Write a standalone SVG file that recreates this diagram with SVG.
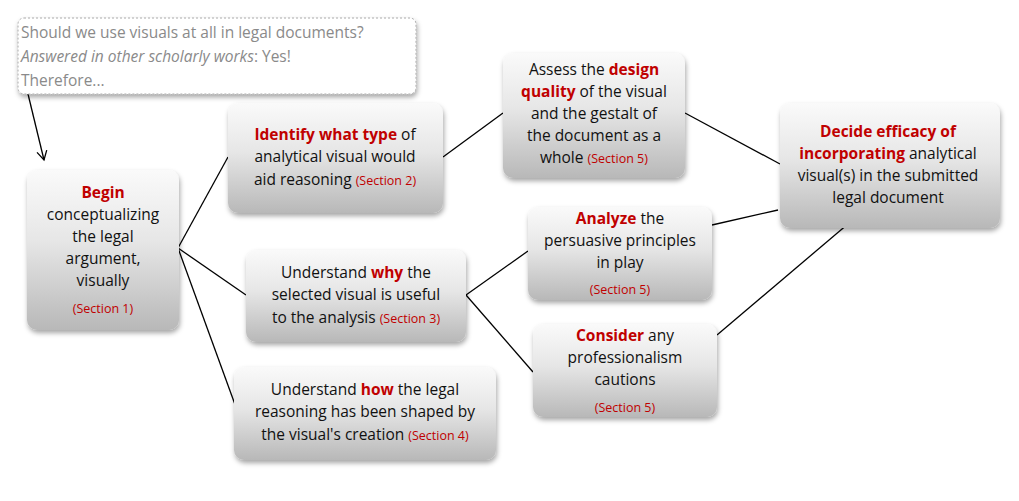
<svg xmlns="http://www.w3.org/2000/svg" width="1019" height="501" viewBox="0 0 1019 501">
<style>
text{font-family:"Open Sans","Liberation Sans",sans-serif;font-size:15.5px;fill:#111;text-anchor:middle}
.r{fill:#c00000;font-weight:bold}
.s{fill:#c00000;font-size:12.5px;font-weight:normal}
.n{fill:url(#g);filter:url(#sh)}
.c line{stroke:#000;stroke-width:1.3}
.q{fill:#8a8a8a;text-anchor:start;font-size:15.5px}
</style>
<defs>
<linearGradient id="g" x1="0" y1="0" x2="0" y2="1"><stop offset="0" stop-color="#fafafa"/><stop offset="0.45" stop-color="#e6e6e6"/><stop offset="1" stop-color="#b8b8b8"/></linearGradient>
<filter id="sh" x="-10%" y="-10%" width="125%" height="130%"><feDropShadow dx="1" dy="3" stdDeviation="2.5" flood-color="#000" flood-opacity="0.35"/></filter>
<marker id="a" markerWidth="12" markerHeight="12" refX="10" refY="6" orient="auto" markerUnits="userSpaceOnUse"><path d="M1,1 L10,6 L1,11" fill="none" stroke="#000" stroke-width="1.3"/></marker>
</defs>
<g class="c">
<line x1="28" y1="94" x2="44" y2="160" marker-end="url(#a)"/>
<line x1="178" y1="248" x2="228" y2="157"/>
<line x1="178" y1="248" x2="246" y2="295"/>
<line x1="178" y1="248" x2="237" y2="410"/>
<line x1="443" y1="157" x2="503" y2="113"/>
<line x1="685" y1="113" x2="780" y2="164"/>
<line x1="466" y1="295" x2="528" y2="251"/>
<line x1="466" y1="295" x2="533" y2="372"/>
<line x1="712" y1="225" x2="778" y2="210"/>
<line x1="717" y1="335" x2="855" y2="218"/>
</g>
<g id="note"><rect x="18" y="18" width="398" height="76" rx="6" fill="#fff" stroke="#aaa" stroke-dasharray="2 2" filter="url(#sh)"/>
<text class="q" x="21" y="38">Should we use visuals at all in legal documents?</text>
<text class="q" x="21" y="62"><tspan font-style="italic">Answered in other scholarly works</tspan>: Yes!</text>
<text class="q" x="21" y="86">Therefore...</text></g>
<g id="begin"><rect class="n" x="27" y="170" width="152" height="160" rx="10"/>
<text x="103" y="198"><tspan class="r">Begin</tspan></text>
<text x="103" y="220">conceptualizing</text><text x="103" y="242">the legal</text><text x="103" y="264">argument,</text><text x="103" y="286">visually</text>
<text x="103" y="313" class="s">(Section 1)</text></g>
<g id="identify"><rect class="n" x="228" y="103" width="215" height="110" rx="10"/>
<text x="335" y="140"><tspan class="r">Identify what type</tspan> of</text>
<text x="335" y="162">analytical visual would</text>
<text x="335" y="185">aid reasoning <tspan class="s">(Section 2)</tspan></text></g>
<g id="assess"><rect class="n" x="503" y="53" width="182" height="125" rx="10"/>
<text x="594" y="75">Assess the <tspan class="r">design</tspan></text>
<text x="594" y="97"><tspan class="r">quality</tspan> of the visual</text>
<text x="594" y="119">and the gestalt of</text>
<text x="594" y="141">the document as a</text>
<text x="594" y="163">whole <tspan class="s">(Section 5)</tspan></text></g>
<g id="decide"><rect class="n" x="780" y="103" width="220" height="125" rx="10"/>
<text x="888" y="137"><tspan class="r">Decide efficacy of</tspan></text>
<text x="888" y="159"><tspan class="r">incorporating</tspan> analytical</text>
<text x="888" y="181">visual(s) in the submitted</text>
<text x="888" y="203">legal document</text></g>
<g id="why"><rect class="n" x="246" y="250" width="220" height="92" rx="10"/>
<text x="356" y="278">Understand <tspan class="r">why</tspan> the</text>
<text x="356" y="300">selected visual is useful</text>
<text x="356" y="323">to the analysis <tspan class="s">(Section 3)</tspan></text></g>
<g id="analyze"><rect class="n" x="528" y="207" width="184" height="93" rx="10"/>
<text x="620" y="224"><tspan class="r">Analyze</tspan> the</text>
<text x="620" y="246">persuasive principles</text>
<text x="620" y="268">in play</text>
<text x="620" y="294" class="s">(Section 5)</text></g>
<g id="consider"><rect class="n" x="533" y="324" width="184" height="93" rx="10"/>
<text x="625" y="341"><tspan class="r">Consider</tspan> any</text>
<text x="625" y="363">professionalism</text>
<text x="625" y="385">cautions</text>
<text x="625" y="412" class="s">(Section 5)</text></g>
<g id="how"><rect class="n" x="234" y="367" width="262" height="93" rx="10"/>
<text x="365" y="395">Understand <tspan class="r">how</tspan> the legal</text>
<text x="365" y="417">reasoning has been shaped by</text>
<text x="365" y="440">the visual's creation <tspan class="s">(Section 4)</tspan></text></g>
</svg>
